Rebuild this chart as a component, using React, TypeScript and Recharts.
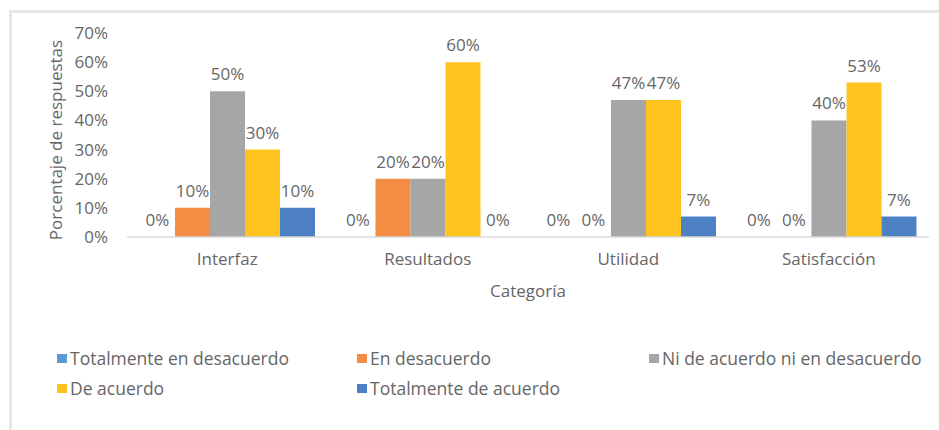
import { Bar, BarChart, LabelList, XAxis, YAxis, Label } from "recharts";

const categories = ["Interfaz", "Resultados", "Utilidad", "Satisfacción"];
const totalmenteEnDesacuerdo = [0, 0, 0, 0];
const enDesacuerdo = [10, 20, 0, 0];
const niDeAcuerdo = [50, 20, 47, 40];
const deAcuerdo = [30, 60, 47, 53];
const totalmenteDeAcuerdo = [10, 0, 7, 7];
const seriesNames = [
  "Totalmente en desacuerdo",
  "En desacuerdo",
  "Ni de acuerdo ni en desacuerdo",
  "De acuerdo",
  "Totalmente de acuerdo",
];
const yTicks = [0, 10, 20, 30, 40, 50, 60, 70];

const seriesValues = [totalmenteEnDesacuerdo, enDesacuerdo, niDeAcuerdo, deAcuerdo, totalmenteDeAcuerdo];
const colors = ["#5B9BD5", "#F28D43", "#A6A6A6", "#FFC31F", "#4E81C4"];
const keys = ["s0", "s1", "s2", "s3", "s4"];

const data = categories.map((cat, i) => {
  const row: Record<string, string | number> = { category: cat };
  seriesValues.forEach((vals, s) => {
    row[keys[s]] = vals[i];
  });
  return row;
});

const FONT = "'Open Sans', sans-serif";
const TEXT = "#666";
const FS = 17;

const legendCols = [57, 357, 649];

function LegendBox() {
  return (
    <div
      style={{
        position: "absolute",
        left: 0,
        top: 348,
        width: 939,
        height: 60,
        fontFamily: FONT,
        fontSize: 17.5,
        color: TEXT,
      }}
    >
      {seriesNames.map((name, i) => (
        <div
          key={name}
          style={{
            position: "absolute",
            left: legendCols[i % 3],
            top: Math.floor(i / 3) * 30,
            display: "flex",
            alignItems: "center",
            whiteSpace: "nowrap",
            lineHeight: "20px",
          }}
        >
          <span style={{ width: 10, height: 9, background: colors[i], marginRight: 3, display: "inline-block" }} />
          {name}
        </div>
      ))}
    </div>
  );
}

export default function App() {
  return (
    <div style={{ position: "absolute", left: 0, top: 0, width: 939, height: 430, background: "#fff" }}>
      <div style={{ position: "absolute", left: 9, top: 10, width: 930, height: 3, background: "#e6e6e6" }} />
      <div style={{ position: "absolute", left: 9, top: 10, width: 3, height: 420, background: "#e6e6e6" }} />
      <BarChart
        width={939}
        height={430}
        data={data}
        margin={{ top: 33, right: 10, bottom: 131, left: 0 }}
        barGap={0}
        style={{ position: "absolute", left: 0, top: 0 }}
      >
        <XAxis
          dataKey="category"
          height={62}
          tickLine={false}
          tickSize={0}
          tickMargin={16}
          axisLine={{ stroke: "#d9d9d9", strokeWidth: 1.5 }}
          tick={{ fill: TEXT, fontSize: FS, fontFamily: FONT }}
        >
          <Label
            value="Categoría"
            position="insideBottom"
            offset={2}
            style={{ fill: TEXT, fontSize: FS, fontFamily: FONT }}
          />
        </XAxis>
        <YAxis
          width={127}
          domain={[0, 70]}
          ticks={yTicks}
          interval={0}
          tickFormatter={(v) => `${v}%`}
          axisLine={false}
          tickLine={false}
          tickSize={0}
          tickMargin={19}
          tick={{ fill: TEXT, fontSize: FS, fontFamily: FONT }}
        >
          <Label
            content={({ viewBox }: any) => {
              const cx = viewBox.x + 55;
              const cy = viewBox.y + viewBox.height / 2 + 5;
              return (
                <text
                  x={cx}
                  y={cy}
                  transform={`rotate(-90, ${cx}, ${cy})`}
                  textAnchor="middle"
                  dominantBaseline="central"
                  fill={TEXT}
                  fontSize={FS}
                  fontFamily={FONT}
                >
                  Porcentaje de respuestas
                </text>
              );
            }}
          />
        </YAxis>
        {keys.map((k, s) => (
          <Bar
            key={k}
            dataKey={k}
            name={seriesNames[s]}
            fill={colors[s]}
            barSize={35}
            minPointSize={0.01}
            isAnimationActive={false}
          >
            <LabelList
              dataKey={k}
              position="top"
              offset={11}
              formatter={(v: any) => `${v}%`}
              style={{ fill: TEXT, fontSize: FS, fontFamily: FONT }}
            />
          </Bar>
        ))}
      </BarChart>
      <LegendBox />
    </div>
  );
}
